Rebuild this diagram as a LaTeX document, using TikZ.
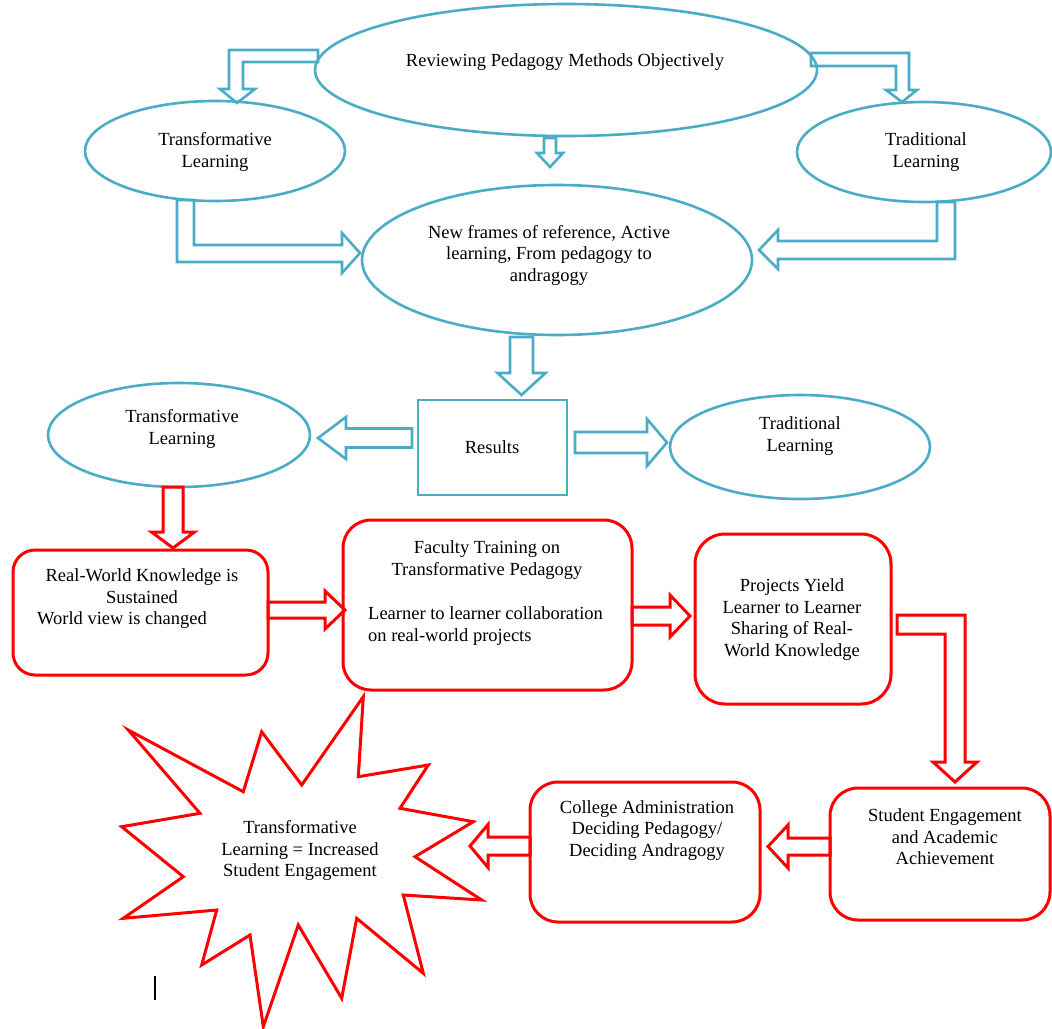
\documentclass[tikz,border=0pt]{standalone}
\usepackage{fontspec}
\setmainfont{Liberation Serif}
\usetikzlibrary{shapes.geometric,calc}
\definecolor{aqua}{RGB}{75,172,198}
\definecolor{rd}{RGB}{255,0,0}
% straight hollow block arrow: #1 style, #2 tail, #3 tip, #4 shaft half width, #5 head half width, #6 head length
\newcommand\blockarr[6]{%
  \coordinate (bab) at ($(#3)!#6!(#2)$);
  \draw[#1] ($(#2)!#4!90:(#3)$) -- ($(bab)!#4!-90:(#2)$) -- ($(bab)!#5!-90:(#2)$) -- (#3)
    -- ($(bab)!#5!90:(#2)$) -- ($(bab)!#4!90:(#2)$) -- ($(#2)!#4!-90:(#3)$) -- cycle;}
\begin{document}
\begin{tikzpicture}[x=1pt,y=-1pt,
  barr/.style={draw=aqua, line width=2.6pt},
  rarr/.style={draw=rd, line width=3pt},
  ell/.style={ellipse, draw=aqua, line width=2.6pt, inner sep=0pt},
  rbox/.style={rectangle, rounded corners=#1, draw=rd, line width=3pt, inner sep=0pt},
  txt/.style={font=\fontsize{18.5}{21.5}\selectfont, align=center, inner sep=0pt, text=black}]
\fill[white] (0,0) rectangle (1052,1028);
\useasboundingbox (0,0) rectangle (1052,1028);

% ---- blue shapes ----
\node[ell, minimum width=502pt, minimum height=132pt] (rev) at (566,70) {};
\node[ell, minimum width=260pt, minimum height=100pt] (trL) at (215,151) {};
\node[ell, minimum width=254pt, minimum height=100pt] (trR) at (924,152) {};
\node[ell, minimum width=390pt, minimum height=150pt] (nf) at (557,260) {};
\node[rectangle, draw=aqua, line width=2.6pt, minimum width=149pt, minimum height=95pt, inner sep=0pt] (res) at (492.5,447.5) {};
\node[ell, minimum width=262pt, minimum height=104pt] (trL2) at (179,435) {};
\node[ell, minimum width=260pt, minimum height=104pt] (trR2) at (800,447) {};

% ---- red shapes ----
\node[rbox=22pt, minimum width=255pt, minimum height=125pt] (rw) at (140.5,612.5) {};
\node[rbox=28pt, minimum width=289pt, minimum height=170pt] (fac) at (487.5,605) {};
\node[rbox=30pt, minimum width=196pt, minimum height=170pt] (proj) at (793,619) {};
\node[rbox=28pt, minimum width=220pt, minimum height=132pt] (stu) at (940,854) {};
\node[rbox=28pt, minimum width=230pt, minimum height=140pt] (col) at (645,852) {};
\draw[rd, line width=3pt] (128.3,730) -- (200,813.3) -- (121.7,826.7) -- (183.3,876.7)
  -- (123.3,918.3) -- (216.7,910) -- (201.7,965) -- (250,935) -- (263.3,1026.7)
  -- (298.3,925) -- (341.7,998.3) -- (356.7,918.3) -- (423.3,973.3) -- (403.3,895)
  -- (481.7,900) -- (415,856.7) -- (473.3,821.7) -- (400,808.3) -- (428.3,765)
  -- (358.3,776.7) -- (363.3,696.7) -- (301.7,785) -- (261.7,731.7) -- (243.3,791.7) -- cycle;

% ---- texts ----
\node[txt] (revt) at (565,62) {Reviewing Pedagogy Methods Objectively};
\node[txt] (trLt) at (215,152) {Transformative\\Learning};
\node[txt] (trRt) at (926,152) {Traditional\\Learning};
\node[txt] (nft) at (549,255) {New frames of reference, Active\\learning, From pedagogy to\\andragogy};
\node[txt] (rest) at (492,447) {Results};
\node[txt] (trL2t) at (182,429) {Transformative\\Learning};
\node[txt] (trR2t) at (800,436) {Traditional\\Learning};
\node[txt] (rwt) at (142,599) {Real-World Knowledge is\\Sustained\\World view is changed\rule{40pt}{0pt}};
\node[txt] (fact1) at (487,560) {Faculty Training on\\Transformative Pedagogy};
\node[txt, align=left, anchor=west] (fact2) at (368,626) {Learner to learner collaboration\\on real-world projects};
\node[txt] (projt) at (792,619.5) {Projects Yield\\Learner to Learner\\Sharing of Real-\\World Knowledge};
\node[txt] (stut) at (945,837) {Student Engagement\\and Academic\\Achievement};
\node[txt] (colt) at (647,830.5) {College Administration\\Deciding Pedagogy/\\Deciding Andragogy};
\node[txt] (start) at (300,850.5) {Transformative\\Learning = Increased\\Student Engagement};

% ---- blue arrows ----
\coordinate (a1s) at (550,138); \coordinate (a1e) at (550,167);
\blockarr{barr}{a1s}{a1e}{6pt}{13pt}{14pt}
\coordinate (a2s) at (521.5,337); \coordinate (a2e) at (521.5,395);
\blockarr{barr}{a2s}{a2e}{11.5pt}{24pt}{22pt}
\coordinate (a3s) at (412,438); \coordinate (a3e) at (318,438);
\blockarr{barr}{a3s}{a3e}{9.5pt}{21pt}{28pt}
\coordinate (a4s) at (575,442.5); \coordinate (a4e) at (667,442.5);
\blockarr{barr}{a4s}{a4e}{10.5pt}{23.5pt}{20pt}
\draw[barr] (318,50) -- (229,50) -- (229,89) -- (220,89) -- (237,103) -- (255,89)
  -- (243,89) -- (243,62) -- (318,62) -- cycle;
\draw[barr] (811,53) -- (909,53) -- (909,90) -- (917,90) -- (902,102) -- (886,90)
  -- (896,90) -- (896,66) -- (811,66) -- cycle;
\draw[barr] (177,200) -- (177,262) -- (342,262) -- (342,273) -- (360,253) -- (342,233)
  -- (342,245) -- (194,245) -- (194,200) -- cycle;
\draw[barr] (955,202) -- (955,259) -- (778,259) -- (778,269) -- (759,250) -- (778,230)
  -- (778,241) -- (937,241) -- (937,202) -- cycle;

% ---- red arrows ----
\coordinate (b1s) at (173,487); \coordinate (b1e) at (173,548);
\blockarr{rarr}{b1s}{b1e}{10pt}{21.5pt}{16pt}
\coordinate (b2s) at (268,610); \coordinate (b2e) at (345,610);
\blockarr{rarr}{b2s}{b2e}{8pt}{19pt}{20pt}
\coordinate (b3s) at (632,616); \coordinate (b3e) at (690,616);
\blockarr{rarr}{b3s}{b3e}{9pt}{21pt}{20pt}
\draw[rarr] (897,615) -- (965,615) -- (965,762) -- (977,762) -- (955,782) -- (933,762)
  -- (945,762) -- (945,634) -- (897,634) -- cycle;
\coordinate (b4s) at (830,846.5); \coordinate (b4e) at (768,846.5);
\blockarr{rarr}{b4s}{b4e}{8.5pt}{21.5pt}{20pt}
\coordinate (b5s) at (530,846); \coordinate (b5e) at (470,846);
\blockarr{rarr}{b5s}{b5e}{9pt}{21.5pt}{18pt}

% text cursor mark
\draw[black, line width=1.5pt] (155,976) -- (155,1000);
\end{tikzpicture}
\end{document}
